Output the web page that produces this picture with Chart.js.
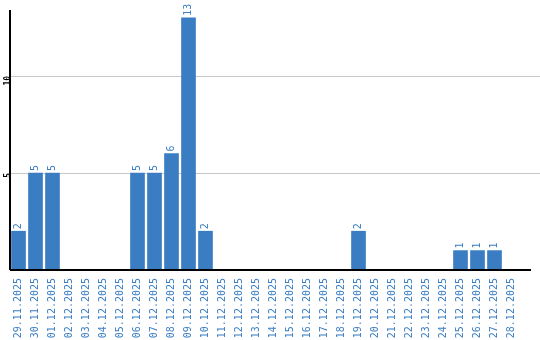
<!DOCTYPE html>
<html>
<head>
<meta charset="utf-8">
<script src="https://cdn.jsdelivr.net/npm/chart.js@4/dist/chart.umd.min.js"></script>
<style>
  html, body { margin: 0; padding: 0; background: #fff; }
  #wrap { width: 540px; height: 340px; }
</style>
</head>
<body>
<div id="wrap"><canvas id="myBarChart" width="540" height="340"></canvas></div>
<script>
const labels = ['29.11.2025','30.11.2025','01.12.2025','02.12.2025','03.12.2025','04.12.2025','05.12.2025',
    '06.12.2025','07.12.2025','08.12.2025','09.12.2025','10.12.2025','11.12.2025','12.12.2025','13.12.2025',
    '14.12.2025','15.12.2025','16.12.2025','17.12.2025','18.12.2025','19.12.2025','20.12.2025','21.12.2025',
    '22.12.2025','23.12.2025','24.12.2025','25.12.2025','26.12.2025','27.12.2025','28.12.2025'];
const values = [2,5,5,0,0,0,0,5,5,6,13,2,0,0,0,0,0,0,0,0,2,0,0,0,0,0,1,1,1,0];
const yTicks = [5, 10];

const blue = '#3a7dc3';
const monoFont = 'DejaVu Sans Mono';

// value labels above the bars, rotated like the x labels
const barValues = {
    id: 'barValues',
    afterDatasetsDraw(chart) {
        const ctx = chart.ctx;
        const meta = chart.getDatasetMeta(0);
        ctx.save();
        ctx.fillStyle = blue;
        ctx.font = '10px "' + monoFont + '"';
        ctx.textAlign = 'left';
        ctx.textBaseline = 'middle';
        meta.data.forEach((bar, i) => {
            if (!values[i]) return;
            ctx.save();
            ctx.translate(bar.x, bar.y - 2);
            ctx.rotate(-Math.PI / 2);
            ctx.fillText(String(values[i]), 0, 0);
            ctx.restore();
        });
        ctx.restore();
    }
};

// grid lines and x axis line run past the chart area
const extraLines = {
    id: 'extraLines',
    beforeDatasetsDraw(chart) {
        const ctx = chart.ctx;
        const y = chart.scales.y;
        const area = chart.chartArea;
        ctx.save();
        ctx.strokeStyle = '#c8c8c8';
        ctx.lineWidth = 1;
        yTicks.forEach(v => {
            const py = Math.round(y.getPixelForValue(v)) + 0.5;
            ctx.beginPath();
            ctx.moveTo(area.left, py);
            ctx.lineTo(chart.width, py);
            ctx.stroke();
        });
        ctx.restore();
    },
    afterDatasetsDraw(chart) {
        const ctx = chart.ctx;
        const area = chart.chartArea;
        ctx.save();
        ctx.strokeStyle = '#000';
        ctx.lineWidth = 2;
        ctx.beginPath();
        ctx.moveTo(area.left, area.bottom);
        ctx.lineTo(531, area.bottom);
        ctx.stroke();
        ctx.beginPath();
        ctx.moveTo(area.left, area.top);
        ctx.lineTo(area.left, area.bottom);
        ctx.stroke();
        ctx.restore();
    }
};

const config = {
    type: 'bar',
    data: {
        labels: labels,
        datasets: [{
            data: values,
            backgroundColor: blue,
            borderWidth: 0,
            barThickness: 14
        }]
    },
    options: {
        responsive: false,
        animation: false,
        layout: { padding: { top: 10, right: 20, bottom: 0, left: 0 } },
        plugins: {
            legend: { display: false },
            tooltip: { enabled: false }
        },
        scales: {
            x: {
                offset: true,
                grid: { display: false, drawTicks: false },
                border: { display: false },
                ticks: {
                    color: blue,
                    font: { family: monoFont, size: 10 },
                    minRotation: 90,
                    maxRotation: 90,
                    autoSkip: false,
                    padding: 8
                },
                afterFit(scale) { scale.height = 70; }
            },
            y: {
                min: 0,
                max: 13.4,
                grid: { display: false, drawTicks: false },
                border: { display: false },
                ticks: {
                    stepSize: 5,
                    color: '#000',
                    font: { family: monoFont, size: 8, weight: 'bold' },
                    minRotation: 90,
                    maxRotation: 90,
                    padding: 2
                },
                afterBuildTicks(scale) {
                    scale.ticks = yTicks.map(v => ({ value: v }));
                },
                afterFit(scale) { scale.width = 10; }
            }
        }
    },
    plugins: [extraLines, barValues]
};
const myBarChart = new Chart(document.getElementById('myBarChart'), config);
</script>
</body>
</html>
